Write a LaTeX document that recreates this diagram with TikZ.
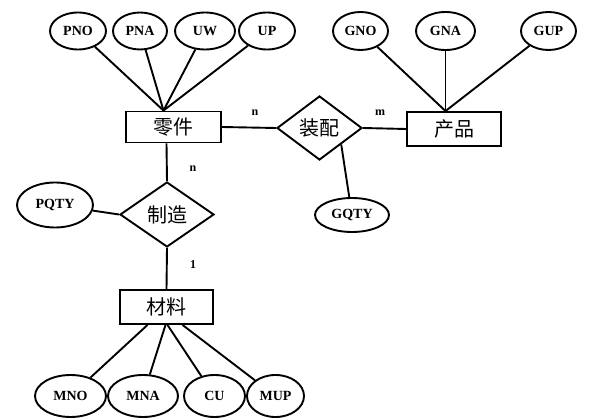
\documentclass[tikz,border=0pt]{standalone}
\usepackage{fontspec}
\setmainfont{Liberation Serif}
\newfontfamily\cjk{Noto Sans CJK SC}
\usetikzlibrary{shapes.geometric}
\tikzset{
  attr/.style={draw, line width=1.9pt, ellipse, inner sep=0pt, font=\fontsize{14}{14}\selectfont\bfseries},
  ent/.style={draw, line width=1.9pt, rectangle, inner sep=0pt, font=\fontsize{20}{20}\selectfont\cjk},
  rel/.style={draw, line width=1.9pt, diamond, inner sep=0pt, font=\fontsize{20}{20}\selectfont\cjk},
  conn/.style={line width=1.9pt},
  card/.style={font=\fontsize{12}{12}\selectfont\bfseries, inner sep=0pt}
}
\begin{document}
\begin{tikzpicture}[x=1pt, y=-1pt]
\useasboundingbox (0,0) rectangle (595,419);
% entities
\node[ent, minimum width=95pt, minimum height=31pt] (part) at (173.5,127) {零件};
\node[ent, minimum width=94pt, minimum height=34pt] (prod) at (454,129) {产品};
\node[ent, minimum width=93pt, minimum height=34pt] (mat) at (166.5,307) {材料};
% relationships
\node[rel, minimum width=85pt, minimum height=64pt] (asm) at (319.5,128) {装配};
\node[rel, minimum width=94pt, minimum height=65pt] (mfg) at (167,214.5) {制造};
% attributes of part
\node[attr, minimum width=56pt, minimum height=37pt] (pno) at (78,31) {PNO};
\node[attr, minimum width=54pt, minimum height=37pt] (pna) at (140,31) {PNA};
\node[attr, minimum width=60pt, minimum height=37pt] (uw) at (205,31) {UW};
\node[attr, minimum width=56pt, minimum height=37pt] (up) at (267,31) {UP};
% attributes of product
\node[attr, minimum width=55pt, minimum height=38pt] (gno) at (360.5,31) {GNO};
\node[attr, minimum width=59pt, minimum height=38pt] (gna) at (445.5,31) {GNA};
\node[attr, minimum width=55pt, minimum height=38pt] (gup) at (548.5,31) {GUP};
% relationship attributes
\node[attr, minimum width=74pt, minimum height=34pt] (gqty) at (352,215) {GQTY};
\node[attr, minimum width=76pt, minimum height=45pt] (pqty) at (55,205) {PQTY};
% attributes of material
\node[attr, minimum width=71pt, minimum height=42pt] (mno) at (70.5,396) {MNO};
\node[attr, minimum width=70pt, minimum height=42pt] (mna) at (143,396) {MNA};
\node[attr, minimum width=61pt, minimum height=42pt] (cu) at (214.5,396) {CU};
\node[attr, minimum width=57pt, minimum height=42pt] (mup) at (275.5,396) {MUP};
% connectors
\coordinate (ptop) at ([xshift=-10pt]part.north);
\foreach \a in {pno,pna,uw,up} \draw[conn] (\a) -- (ptop);
\foreach \a in {gno,gna,gup} \draw[conn] (\a) -- (prod.north -| gna);
\draw[conn] (part.east) -- (asm.west);
\draw[conn] (asm.east) -- (prod.west);
\draw[conn] (asm.south east) -- (gqty);
\draw[conn] ([xshift=-7pt]part.south) -- (mfg.north);
\draw[conn] (mfg.south) -- (mat.north);
\draw[conn] (pqty) -- (mfg.west);
\draw[conn] ([xshift=-19pt]mat.south) -- (mno);
\draw[conn] ([xshift=-1pt]mat.south) -- (mna);
\draw[conn] ([xshift=1pt]mat.south) -- (cu);
\draw[conn] ([xshift=16pt]mat.south) -- (mup);
% cardinalities
\node[card] (c1) at (255,113) {n};
\node[card] (c2) at (380,113) {m};
\node[card] (c3) at (193,169) {n};
\node[card] (c4) at (193,265) {1};
\end{tikzpicture}
\end{document}
